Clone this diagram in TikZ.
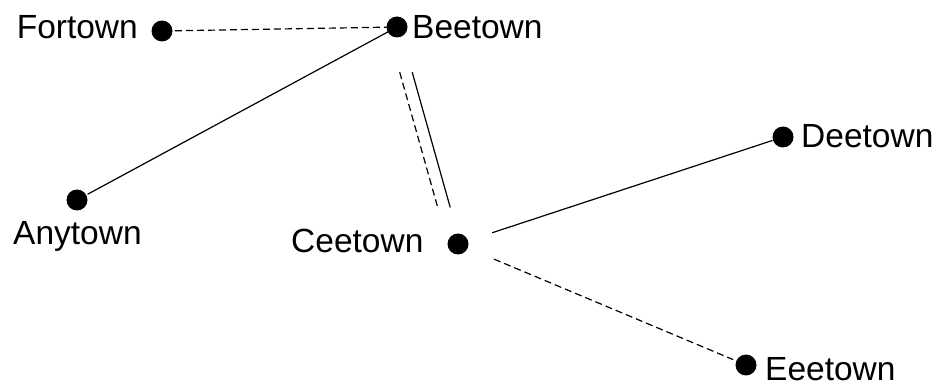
\documentclass[tikz,border=0pt]{standalone}
\usepackage{fontspec}
\setmainfont{Liberation Sans}
\begin{document}
\begin{tikzpicture}[x=1pt,y=-1pt,
  dot/.style={circle,fill=black,inner sep=0pt,minimum size=21pt},
  lbl/.style={inner sep=0pt,font=\fontsize{33.5}{33.5}\selectfont},
  link/.style={line width=1.2pt,black},
  dlink/.style={link,dash pattern=on 7pt off 4pt}]
\useasboundingbox (0,0) rectangle (943,387);
% dots
\node[dot] (f) at (162,31) {};
\node[dot] (b) at (397,27) {};
\node[dot] (a) at (77,200) {};
\node[dot] (c) at (458,244) {};
\node[dot] (d) at (783,137) {};
\node[dot] (e) at (746,365) {};
% labels
\node[lbl,anchor=base east] (ft) at (138,39) {Fortown};
\node[lbl,anchor=base west] (bt) at (412,39) {Beetown};
\node[lbl,anchor=base west] (at) at (13,245) {Anytown};
\node[lbl,anchor=base west] (ct) at (291,253) {Ceetown};
\node[lbl,anchor=base west] (dt) at (801,148) {Deetown};
\node[lbl,anchor=base west] (et) at (765,381) {Eeetown};
% connectors
\draw[dlink,shorten <=13pt,shorten >=10pt] (f.center) -- (b.center);
\draw[link,shorten <=10pt,shorten >=12pt] (b.center) -- (a.center);
\draw[link,shorten <=47pt,shorten >=38pt] ([xshift=2.5pt]b.center) -- ([xshift=2.5pt]c.center);
\draw[dlink,shorten <=47pt,shorten >=38pt] ([xshift=-10pt]b.center) -- ([xshift=-10pt]c.center);
\draw[link,shorten <=36pt,shorten >=11pt] (c.center) -- (d.center);
\draw[dlink,shorten <=39pt,shorten >=14pt] (c.center) -- (e.center);
\end{tikzpicture}
\end{document}
